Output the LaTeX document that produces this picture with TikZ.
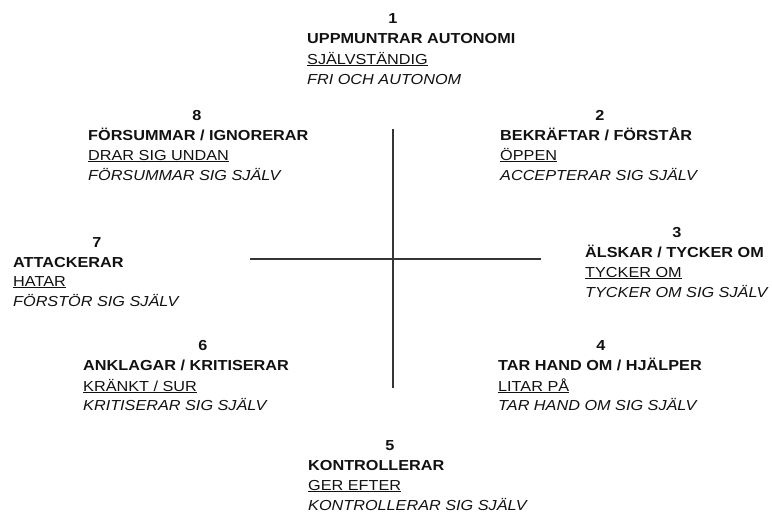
\documentclass[tikz,border=0pt]{standalone}
\usepackage{fontspec}
\setmainfont{Liberation Sans}[FakeStretch=1.12]
\definecolor{ink}{HTML}{111111}
\begin{document}
\begin{tikzpicture}[x=1pt,y=-1pt,
  txt/.style={anchor=base west,inner sep=0pt,text=ink,font=\fontsize{14.5}{16}\selectfont},
  head/.style={txt,font=\fontsize{14.5}{16}\selectfont\bfseries},
  num/.style={anchor=base,inner sep=0pt,text=ink,font=\fontsize{14.5}{16}\selectfont\bfseries},
  sub/.style={txt},
  refl/.style={txt,font=\fontsize{14.5}{16}\selectfont\itshape},
  axis/.style={draw=ink!85,line width=1.3pt}]
\useasboundingbox (0,0) rectangle (772,515);
% axes
\coordinate (vt) at (393,129);
\coordinate (vb) at (393,388);
\coordinate (hl) at (250,259);
\coordinate (hr) at (541,259);
\draw[axis] (vt) -- (vb);
\draw[axis] (hl) -- (hr);
% block 1
\node[num] (n1) at (393,23) {1};
\node[head] (h1) at (307,43) {UPPMUNTRAR AUTONOMI};
\node[sub] (s1) at (307,64) {\underline{SJÄLVSTÄNDIG}};
\node[refl] (r1) at (307,84) {FRI OCH AUTONOM};
% block 8
\node[num] (n8) at (197,120) {8};
\node[head] (h8) at (88,140) {FÖRSUMMAR / IGNORERAR};
\node[sub] (s8) at (88,160) {\underline{DRAR SIG UNDAN}};
\node[refl] (r8) at (88,180) {FÖRSUMMAR SIG SJÄLV};
% block 2
\node[num] (n2) at (600,120) {2};
\node[head] (h2) at (500,140) {BEKRÄFTAR / FÖRSTÅR};
\node[sub] (s2) at (500,160) {\underline{ÖPPEN}};
\node[refl] (r2) at (500,180) {ACCEPTERAR SIG SJÄLV};
% block 7
\node[num] (n7) at (97,247) {7};
\node[head] (h7) at (13,267) {ATTACKERAR};
\node[sub] (s7) at (13,286) {\underline{HATAR}};
\node[refl] (r7) at (13,306) {FÖRSTÖR SIG SJÄLV};
% block 3
\node[num] (n3) at (677,237) {3};
\node[head] (h3) at (585,257) {ÄLSKAR / TYCKER OM};
\node[sub] (s3) at (585,277) {\underline{TYCKER OM}};
\node[refl] (r3) at (585,297) {TYCKER OM SIG SJÄLV};
% block 6
\node[num] (n6) at (203,350) {6};
\node[head] (h6) at (83,370) {ANKLAGAR / KRITISERAR};
\node[sub] (s6) at (83,391) {\underline{KRÄNKT / SUR}};
\node[refl] (r6) at (83,410) {KRITISERAR SIG SJÄLV};
% block 4
\node[num] (n4) at (601,350) {4};
\node[head] (h4) at (498,370) {TAR HAND OM / HJÄLPER};
\node[sub] (s4) at (498,391) {\underline{LITAR PÅ}};
\node[refl] (r4) at (498,410) {TAR HAND OM SIG SJÄLV};
% block 5
\node[num] (n5) at (390,450) {5};
\node[head] (h5) at (308,470) {KONTROLLERAR};
\node[sub] (s5) at (308,490) {\underline{GER EFTER}};
\node[refl] (r5) at (308,510) {KONTROLLERAR SIG SJÄLV};
\end{tikzpicture}
\end{document}
